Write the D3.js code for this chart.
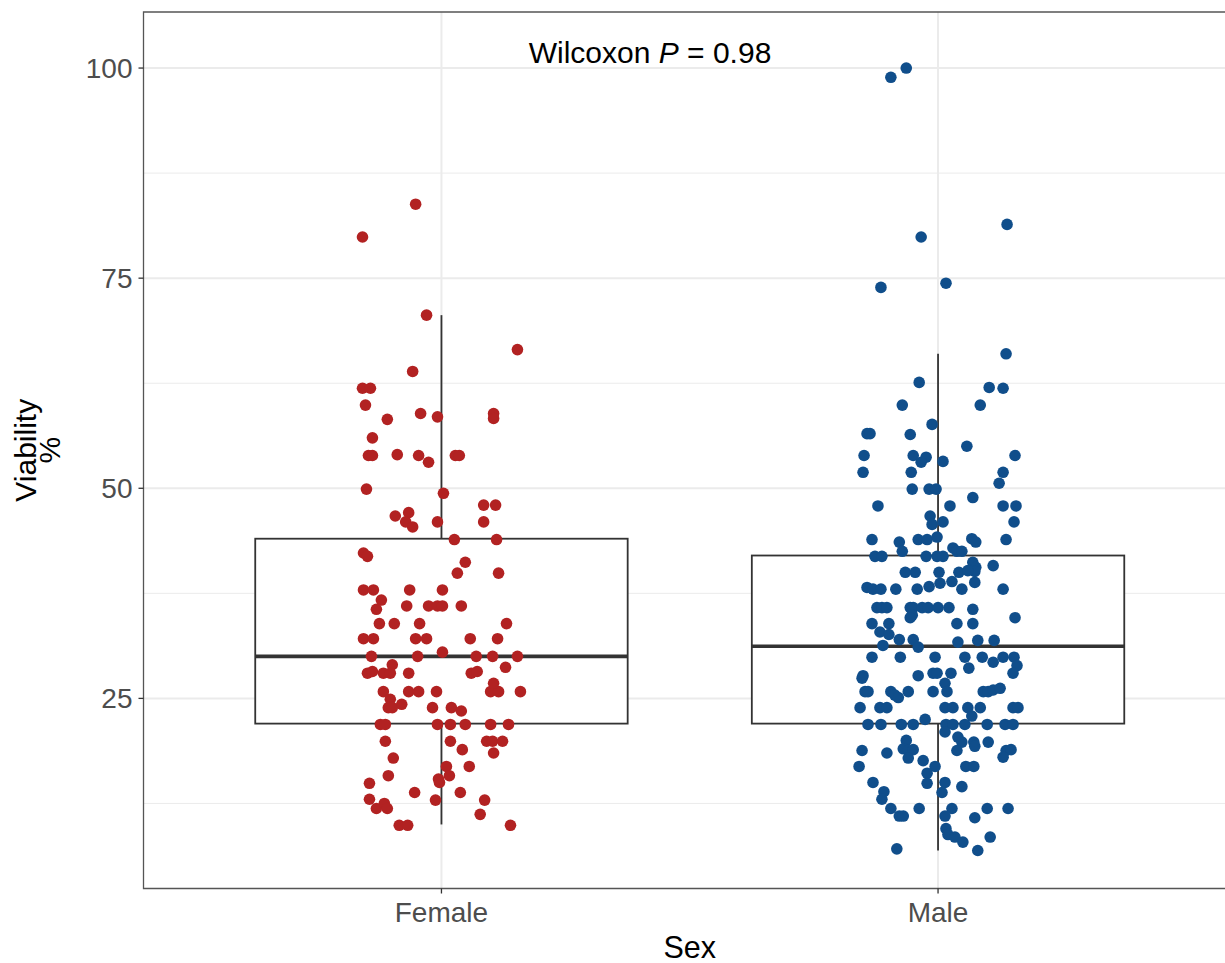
<!DOCTYPE html>
<head>
    <meta charset="utf-8">
    <script src='https://d3js.org/d3.v7.min.js'> </script>
    <style>
        body { margin: 0; background: #fff; }
        text { font-family: "Liberation Sans", Arial, Helvetica, sans-serif; }
    </style>
</head>

<body>
    <svg width="1225" height="963"> </svg>

    <script>
        // categories on the x axis
        const categories = ["Female", "Male"]
        const yTicks = [25, 50, 75, 100]
        const yMinorTicks = [12.5, 37.5, 62.5, 87.5]

        // box statistics
        const boxQ1 = [22, 22]
        const boxMedian = [30, 31.2]
        const boxQ3 = [44, 42]
        const whiskerLow = [10, 6.9]
        const whiskerHigh = [70.6, 66]

        // viability %, one value per dot
        const femaleValues = [83.8, 79.9, 70.6, 66.5, 63.9, 61.9, 61.9, 59.9, 58.9, 58.2, 58.5, 58.9, 58.3, 56.0,
            53.9, 53.9, 54.0, 53.9, 53.1, 53.9, 53.9, 49.9, 49.4, 46.7, 47.1, 46.0, 45.4, 46.0, 48.0, 48.0, 46.0,
            43.9, 43.9, 42.3, 41.9, 41.2, 39.9, 39.9, 37.9, 37.9, 37.9, 37.9, 36.7, 35.6, 36.0, 36.0, 36.0, 36.0,
            36.0, 33.9, 33.9, 33.9, 33.9, 32.1, 32.1, 32.1, 32.1, 32.1, 32.1, 30.0, 30.0, 30.5, 30.0, 30.0, 30.0,
            29.0, 28.0, 28.2, 28.0, 28.0, 28.0, 28.0, 28.2, 28.7, 25.8, 25.8, 25.8, 25.8, 25.8, 25.8, 26.8, 25.8,
            24.9, 23.9, 23.9, 24.3, 23.9, 23.9, 23.5, 21.9, 21.9, 21.9, 21.9, 21.9, 21.9, 21.9, 19.9, 19.9, 19.9,
            19.9, 19.9, 18.9, 18.5, 17.9, 16.9, 16.9, 15.8, 15.8, 14.9, 15.0, 15.4, 13.8, 13.8, 13.0, 12.9, 12.9,
            11.9, 12.5, 11.9, 11.2, 9.9, 9.9, 9.9]
        // horizontal jitter of each dot, in category units
        const femaleJitter = [-0.052, -0.159, -0.030, 0.153, -0.058, -0.159, -0.143, -0.153, -0.042, -0.109, -0.008,
            0.105, 0.105, -0.139, -0.147, -0.139, -0.089, -0.046, -0.026, 0.028, 0.036, -0.151, 0.004, -0.093, -0.066,
            -0.072, -0.058, -0.008, 0.085, 0.109, 0.085, 0.026, 0.111, -0.157, -0.149, 0.048, 0.032, 0.115, -0.157,
            -0.137, -0.064, 0.002, -0.121, -0.131, -0.070, -0.026, -0.008, 0.002, 0.040, -0.125, -0.095, -0.044,
            0.131, -0.157, -0.137, -0.052, -0.030, 0.058, 0.113, -0.141, -0.048, 0.002, 0.070, 0.103, 0.153, -0.099,
            -0.149, -0.139, -0.117, -0.103, -0.066, 0.060, 0.072, 0.129, -0.117, -0.066, -0.046, -0.010, 0.099, 0.115,
            0.105, 0.159, -0.103, -0.107, -0.099, -0.080, -0.018, 0.020, 0.040, -0.123, -0.113, -0.008, 0.018, 0.048,
            0.099, 0.135, -0.113, 0.018, 0.091, 0.103, 0.123, 0.042, 0.105, -0.097, 0.010, 0.056, -0.107, 0.016,
            -0.145, -0.004, -0.006, -0.054, 0.038, -0.145, -0.012, 0.087, -0.131, -0.115, -0.109, 0.078, -0.085,
            -0.068, 0.139]

        const maleValues = [100.0, 98.9, 81.4, 79.9, 73.9, 74.4, 66.0, 62.6, 62.0, 61.9, 59.9, 59.9, 57.6, 56.5,
            56.5, 56.4, 55.0, 53.9, 53.9, 53.7, 53.1, 53.2, 53.9, 51.9, 51.9, 51.9, 50.6, 49.9, 49.9, 49.9, 48.9,
            47.9, 47.9, 47.9, 47.9, 46.7, 45.7, 46.0, 46.0, 43.9, 43.6, 42.5, 43.9, 43.9, 44.2, 44.0, 43.6, 43.9,
            41.9, 41.9, 41.9, 41.9, 41.9, 42.9, 42.5, 42.5, 41.2, 40.6, 40.1, 40.8, 40.0, 40.0, 40.0, 40.0, 40.2,
            38.9, 38.8, 38.2, 38.0, 38.0, 38.0, 38.0, 38.3, 38.7, 38.0, 38.0, 35.8, 35.8, 35.8, 35.8, 35.8, 35.8,
            35.8, 35.8, 35.8, 34.9, 34.6, 35.6, 33.9, 33.9, 33.9, 33.9, 34.6, 32.9, 32.6, 32.0, 32.0, 31.1, 31.3,
            31.7, 31.9, 31.9, 29.9, 29.9, 29.9, 29.9, 29.9, 29.3, 29.9, 29.9, 28.9, 28.6, 27.7, 27.4, 27.7, 28.0,
            28.0, 28.0, 28.0, 25.8, 25.8, 25.8, 25.4, 25.1, 25.8, 25.8, 26.8, 25.8, 25.8, 25.8, 26.0, 26.2, 23.9,
            23.9, 23.9, 23.9, 23.9, 23.9, 23.9, 23.9, 23.9, 22.9, 22.5, 21.9, 21.9, 21.9, 21.9, 21.9, 21.9, 21.9,
            21.9, 21.9, 21.9, 21.0, 20.4, 19.8, 20.0, 19.0, 18.8, 18.9, 17.9, 19.8, 19.3, 19.8, 18.8, 18.5, 18.8,
            18.8, 18.9, 18.0, 17.6, 16.9, 16.9, 16.1, 16.9, 16.9, 15.0, 14.9, 15.0, 13.8, 14.5, 13.9, 13.0, 11.9,
            11.9, 11.9, 11.9, 11.9, 11.0, 11.0, 11.0, 10.8, 9.5, 8.8, 8.5, 7.9, 8.5, 7.1, 6.9]
        const maleJitter = [-0.064, -0.095, 0.139, -0.034, -0.115, 0.016, 0.137, -0.038, 0.103, 0.131, -0.072, 0.085,
            -0.012, -0.143, -0.137, -0.056, 0.058, -0.149, -0.050, -0.024, -0.034, 0.010, 0.155, -0.151, -0.054,
            0.131, 0.123, -0.052, -0.018, -0.004, 0.070, -0.121, 0.024, 0.131, 0.157, -0.016, -0.012, 0.010, 0.153,
            -0.133, -0.078, -0.072, -0.040, -0.022, -0.002, 0.068, 0.076, 0.137, -0.127, -0.113, -0.024, -0.002,
            0.010, 0.030, 0.038, 0.048, 0.070, 0.076, 0.074, 0.111, -0.066, -0.046, 0.002, 0.042, 0.060, 0.028,
            0.074, -0.143, -0.131, -0.115, -0.085, -0.042, -0.018, 0.004, 0.048, 0.131, -0.123, -0.113, -0.103,
            -0.056, -0.050, -0.032, -0.020, 0.000, 0.022, -0.052, -0.056, 0.070, -0.133, -0.099, 0.038, 0.070, 0.155,
            -0.117, -0.099, -0.078, -0.050, -0.040, -0.111, 0.040, 0.080, 0.113, -0.133, -0.076, -0.006, 0.054,
            0.089, 0.111, 0.131, 0.153, 0.159, 0.062, -0.151, -0.153, -0.040, -0.010, -0.002, 0.026, 0.151, -0.147,
            -0.141, -0.095, -0.087, -0.080, -0.060, -0.010, 0.014, 0.018, 0.091, 0.101, 0.111, 0.125, -0.157, -0.117,
            -0.103, 0.014, 0.030, 0.060, 0.085, 0.151, 0.161, 0.068, -0.026, -0.141, -0.115, -0.074, -0.050, 0.016,
            0.030, 0.054, 0.099, 0.135, 0.151, 0.014, 0.040, 0.048, -0.064, -0.070, -0.060, -0.050, -0.060, 0.072,
            0.074, 0.101, -0.153, -0.103, 0.038, 0.137, 0.147, 0.131, -0.030, -0.159, -0.006, -0.022, 0.056, 0.072,
            -0.131, -0.022, 0.014, 0.008, 0.048, -0.109, -0.113, -0.095, -0.038, 0.028, 0.099, 0.141, -0.078,
            -0.070, 0.014, 0.074, 0.016, 0.020, 0.034, 0.050, 0.105, -0.083, 0.080]

        const dotColors = ["#B22222", "#104E8B"]
        const pLabel = "0.98"

        let svg = d3.select("svg")
        const panel = { left: 143.5, top: 12, bottom: 888.5, right: 1236 }

        // discrete positions 1, 2 with ggplot's 0.6 expansion
        const x = d3.scaleLinear().domain([0.4, 2.6]).range([panel.left, panel.right])
        const y = d3.scaleLinear().domain([2.38, 106.67]).range([panel.bottom, panel.top])

        // grid
        svg.append("g")
            .selectAll("line.minor")
            .data(yMinorTicks)
            .enter()
            .append("line")
            .attr("x1", panel.left).attr("x2", 1225)
            .attr("y1", d => y(d)).attr("y2", d => y(d))
            .attr("stroke", "#ebebeb")
            .attr("stroke-width", 1)
        svg.append("g")
            .selectAll("line.major")
            .data(yTicks)
            .enter()
            .append("line")
            .attr("x1", panel.left).attr("x2", 1225)
            .attr("y1", d => y(d)).attr("y2", d => y(d))
            .attr("stroke", "#ebebeb")
            .attr("stroke-width", 2)
        svg.append("g")
            .selectAll("line.vmajor")
            .data(categories)
            .enter()
            .append("line")
            .attr("x1", (d, i) => x(i + 1)).attr("x2", (d, i) => x(i + 1))
            .attr("y1", panel.top).attr("y2", panel.bottom)
            .attr("stroke", "#ebebeb")
            .attr("stroke-width", 2)

        // boxes
        const boxHalf = 0.375
        const boxes = svg.append("g")
            .selectAll("g.box")
            .data(categories)
            .enter()
            .append("g")
        boxes.append("line")
            .attr("x1", (d, i) => x(i + 1)).attr("x2", (d, i) => x(i + 1))
            .attr("y1", (d, i) => y(boxQ3[i])).attr("y2", (d, i) => y(whiskerHigh[i]))
        boxes.append("line")
            .attr("x1", (d, i) => x(i + 1)).attr("x2", (d, i) => x(i + 1))
            .attr("y1", (d, i) => y(boxQ1[i])).attr("y2", (d, i) => y(whiskerLow[i]))
        boxes.selectAll("line")
            .attr("stroke", "#333333")
            .attr("stroke-width", 1.8)
        boxes.append("rect")
            .attr("x", (d, i) => x(i + 1 - boxHalf))
            .attr("width", (d, i) => x(i + 1 + boxHalf) - x(i + 1 - boxHalf))
            .attr("y", (d, i) => y(boxQ3[i]))
            .attr("height", (d, i) => y(boxQ1[i]) - y(boxQ3[i]))
            .attr("fill", "white")
            .attr("stroke", "#333333")
            .attr("stroke-width", 1.8)
        boxes.append("line")
            .attr("x1", (d, i) => x(i + 1 - boxHalf)).attr("x2", (d, i) => x(i + 1 + boxHalf))
            .attr("y1", (d, i) => y(boxMedian[i])).attr("y2", (d, i) => y(boxMedian[i]))
            .attr("stroke", "#333333")
            .attr("stroke-width", 3.6)

        // jittered dots
        const groups = [
            femaleValues.map((v, k) => ({ v: v, j: femaleJitter[k] })),
            maleValues.map((v, k) => ({ v: v, j: maleJitter[k] }))
        ]
        groups.forEach((pts, i) => {
            svg.append("g")
                .selectAll("circle")
                .data(pts)
                .enter()
                .append("circle")
                .attr("cx", d => x(i + 1 + d.j))
                .attr("cy", d => y(d.v))
                .attr("r", 5.8)
                .attr("fill", dotColors[i])
        })

        // panel border (right edge falls outside the picture)
        svg.append("path")
            .attr("d", `M1226,${panel.top}H${panel.left}V${panel.bottom}H1226`)
            .attr("fill", "none")
            .attr("stroke", "#555555")
            .attr("stroke-width", 1.3)

        // y axis ticks and labels
        const yAxis = svg.append("g")
            .selectAll("g.ytick")
            .data(yTicks)
            .enter()
            .append("g")
        yAxis.append("line")
            .attr("x1", panel.left - 5).attr("x2", panel.left)
            .attr("y1", d => y(d)).attr("y2", d => y(d))
            .attr("stroke", "#333333").attr("stroke-width", 1.3)
        yAxis.append("text")
            .attr("x", panel.left - 11)
            .attr("y", d => y(d))
            .attr("dy", "0.36em")
            .attr("text-anchor", "end")
            .attr("font-size", 28)
            .attr("fill", "#4d4d4d")
            .text(d => d)

        // x axis ticks and labels
        const xAxis = svg.append("g")
            .selectAll("g.xtick")
            .data(categories)
            .enter()
            .append("g")
        xAxis.append("line")
            .attr("x1", (d, i) => x(i + 1)).attr("x2", (d, i) => x(i + 1))
            .attr("y1", panel.bottom).attr("y2", panel.bottom + 5)
            .attr("stroke", "#333333").attr("stroke-width", 1.3)
        xAxis.append("text")
            .attr("x", (d, i) => x(i + 1))
            .attr("y", 922)
            .attr("text-anchor", "middle")
            .attr("font-size", 28)
            .attr("fill", "#4d4d4d")
            .text(d => d)

        // axis titles
        svg.append("text")
            .attr("x", (panel.left + panel.right) / 2)
            .attr("y", 958)
            .attr("text-anchor", "middle")
            .attr("font-size", 30.5)
            .attr("fill", "black")
            .text("Sex")
        const yTitle = svg.append("text")
            .attr("transform", `translate(0, ${(panel.top + panel.bottom) / 2}) rotate(-90)`)
            .attr("text-anchor", "middle")
            .attr("font-size", 30)
            .attr("fill", "black")
        yTitle.append("tspan").attr("x", 0).attr("y", 36).text("Viability")
        yTitle.append("tspan").attr("x", 0).attr("y", 60).text("%")

        // test annotation
        const note = svg.append("text")
            .attr("x", x(1.42))
            .attr("y", 63)
            .attr("text-anchor", "middle")
            .attr("font-size", 30)
            .attr("fill", "black")
        note.append("tspan").text("Wilcoxon ")
        note.append("tspan").attr("font-style", "italic").text("P")
        note.append("tspan").text(" = " + pLabel)
    </script>

</body>
